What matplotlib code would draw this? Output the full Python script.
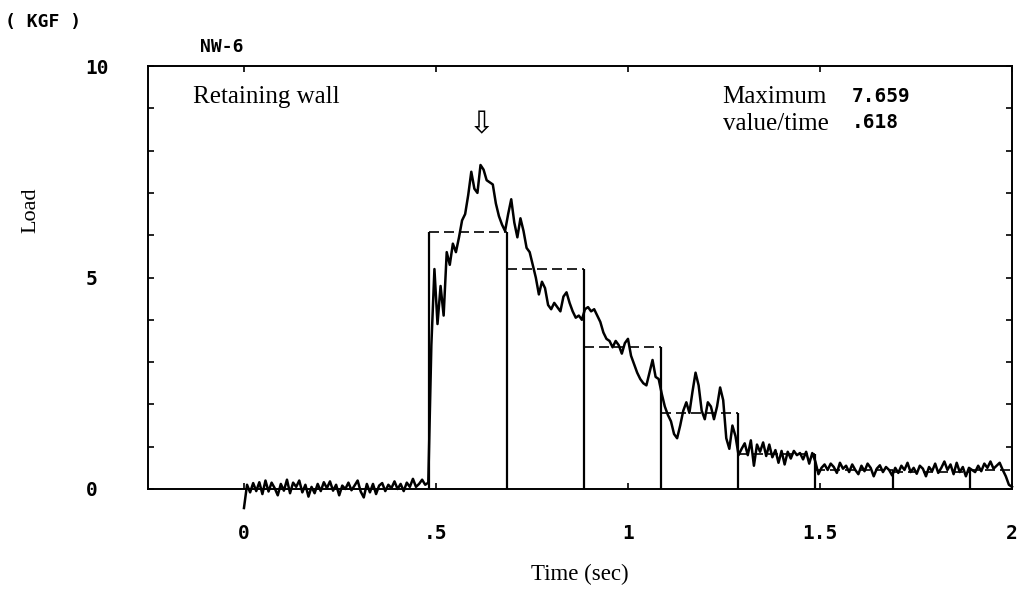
import numpy as np
import matplotlib
matplotlib.use('Agg')
from matplotlib import pyplot as plt

# load record, sampled every 8 ms from t = 0
dt = 0.008
load = [
    -0.45, 0.10, -0.08, 0.14, -0.05, 0.16, -0.12, 0.20, -0.06, 0.15,
    0.02, -0.15, 0.12, -0.04, 0.22, -0.10, 0.15, 0.05, 0.20, -0.08,
    0.10, -0.18, 0.05, -0.10, 0.12, -0.05, 0.16, 0.02, 0.18, -0.04,
    0.10, -0.15, 0.08, 0.00, 0.15, -0.03, 0.08, 0.20, -0.06, -0.20,
    0.12, -0.08, 0.12, -0.12, 0.08, 0.14, -0.05, 0.10, 0.02, 0.18,
    0.00, 0.12, -0.05, 0.15, 0.05, 0.24, 0.05, 0.12, 0.22, 0.10,
    0.15, 3.40, 5.20, 3.90, 4.80, 4.10, 5.60, 5.30, 5.80, 5.60,
    5.95, 6.35, 6.50, 6.95, 7.50, 7.10, 7.00, 7.66, 7.55, 7.30,
    7.25, 7.20, 6.75, 6.45, 6.25, 6.10, 6.50, 6.85, 6.30, 5.95,
    6.40, 6.10, 5.70, 5.60, 5.30, 5.00, 4.60, 4.90, 4.75, 4.35,
    4.25, 4.40, 4.30, 4.20, 4.55, 4.65, 4.40, 4.20, 4.05, 4.10,
    4.00, 4.25, 4.30, 4.20, 4.25, 4.10, 3.95, 3.70, 3.55, 3.50,
    3.35, 3.50, 3.40, 3.20, 3.45, 3.55, 3.15, 2.95, 2.75, 2.60,
    2.50, 2.45, 2.75, 3.05, 2.65, 2.60, 2.25, 1.95, 1.75, 1.60,
    1.30, 1.20, 1.50, 1.85, 2.05, 1.80, 2.30, 2.75, 2.45, 1.85,
    1.65, 2.05, 1.95, 1.65, 1.95, 2.40, 2.10, 1.20, 0.95, 1.50,
    1.25, 0.80, 0.95, 1.08, 0.80, 1.15, 0.55, 1.05, 0.88, 1.10,
    0.78, 1.05, 0.75, 0.92, 0.62, 0.90, 0.58, 0.88, 0.72, 0.90,
    0.80, 0.85, 0.70, 0.88, 0.60, 0.85, 0.65, 0.35, 0.50, 0.58,
    0.45, 0.60, 0.52, 0.38, 0.62, 0.48, 0.55, 0.40, 0.58, 0.45,
    0.35, 0.55, 0.42, 0.60, 0.50, 0.30, 0.48, 0.56, 0.40, 0.52,
    0.45, 0.32, 0.50, 0.38, 0.55, 0.45, 0.62, 0.40, 0.50, 0.36,
    0.55, 0.48, 0.30, 0.52, 0.42, 0.60, 0.38, 0.50, 0.65, 0.45,
    0.58, 0.35, 0.62, 0.40, 0.52, 0.30, 0.50, 0.45, 0.40, 0.55,
    0.42, 0.60, 0.50, 0.65, 0.48, 0.55, 0.62, 0.45, 0.30, 0.10, 0.05,
]
time = np.arange(len(load)) * dt

# 0.2 s block averages
block_edges = [0.483, 0.684, 0.885, 1.086, 1.287, 1.488, 1.689, 1.890, 2.0]
block_means = [6.08, 5.20, 3.36, 1.80, 0.82, 0.45, 0.40, 0.45]

x_ticks = [0, 0.5, 1, 1.5, 2]
x_labels = ['0', '.5', '1', '1.5', '2']
y_ticks = list(range(0, 11))
y_labels = ['0', '', '', '', '', '5', '', '', '', '', '10']

peak_value = '7.659'
peak_time = '.618'

serif = ['Liberation Serif', 'DejaVu Serif']
mono = ['DejaVu Sans Mono']

fig = plt.figure(figsize=(10.19, 5.90), dpi=100)
ax = fig.add_axes([0.1452, 0.1712, 0.8479, 0.7169])

# blocks: solid sides, dashed tops
heights = [0] + block_means + [0]
side_tops = [max(heights[i], heights[i + 1]) for i in range(len(block_edges))]
ax.vlines(block_edges[:-1], 0, side_tops[:-1], colors='black', lw=1.6, zorder=2)
ax.hlines(block_means, block_edges[:-1], block_edges[1:], colors='black',
          lw=1.2, linestyles=(0, (6, 3)), zorder=2)

ax.plot(time, load, color='black', lw=1.8, zorder=3, clip_on=False)

ax.set_xlim(-0.25, 2.0)
ax.set_ylim(0, 10)
ax.set_xticks(x_ticks)
ax.set_xticklabels(x_labels, family=mono, fontsize=14, fontweight='bold')
ax.set_yticks(y_ticks)
ax.set_yticklabels(y_labels, family=mono, fontsize=14, fontweight='bold',
                   ha='left')
ax.tick_params(axis='both', direction='in', length=4, width=1.2,
               top=True, right=True)
ax.tick_params(axis='x', pad=25)
ax.tick_params(axis='y', pad=45)
for s in ax.spines.values():
    s.set_linewidth(1.4)

ax.set_xlabel('Time (sec)', family=serif, fontsize=16.5, labelpad=15)
fig.text(0.030, 0.644, 'Load', rotation=90, ha='center', va='center',
         family=serif, fontsize=16)

fig.text(0.005, 0.963, '( KGF )', ha='left', va='center', family=mono,
         fontsize=13, fontweight='bold')
fig.text(0.218, 0.921, 'NW-6', ha='center', va='center', family=mono,
         fontsize=13, fontweight='bold')

ax.text(0.052, 0.926, 'Retaining wall', transform=ax.transAxes,
        ha='left', va='center', family=serif, fontsize=18)
ax.text(0.665, 0.926, 'Maximum', transform=ax.transAxes,
        ha='left', va='center', family=serif, fontsize=18)
ax.text(0.665, 0.864, 'value/time', transform=ax.transAxes,
        ha='left', va='center', family=serif, fontsize=18)
ax.text(0.815, 0.929, peak_value, transform=ax.transAxes,
        ha='left', va='center', family=mono, fontsize=14, fontweight='bold')
ax.text(0.815, 0.867, peak_time, transform=ax.transAxes,
        ha='left', va='center', family=mono, fontsize=14, fontweight='bold')

# marker over the peak
ax.text(0.618, 8.6, '\u21e9', ha='center', va='center',
        family=['DejaVu Sans'], fontsize=22)

plt.savefig('out.png', dpi=100)
